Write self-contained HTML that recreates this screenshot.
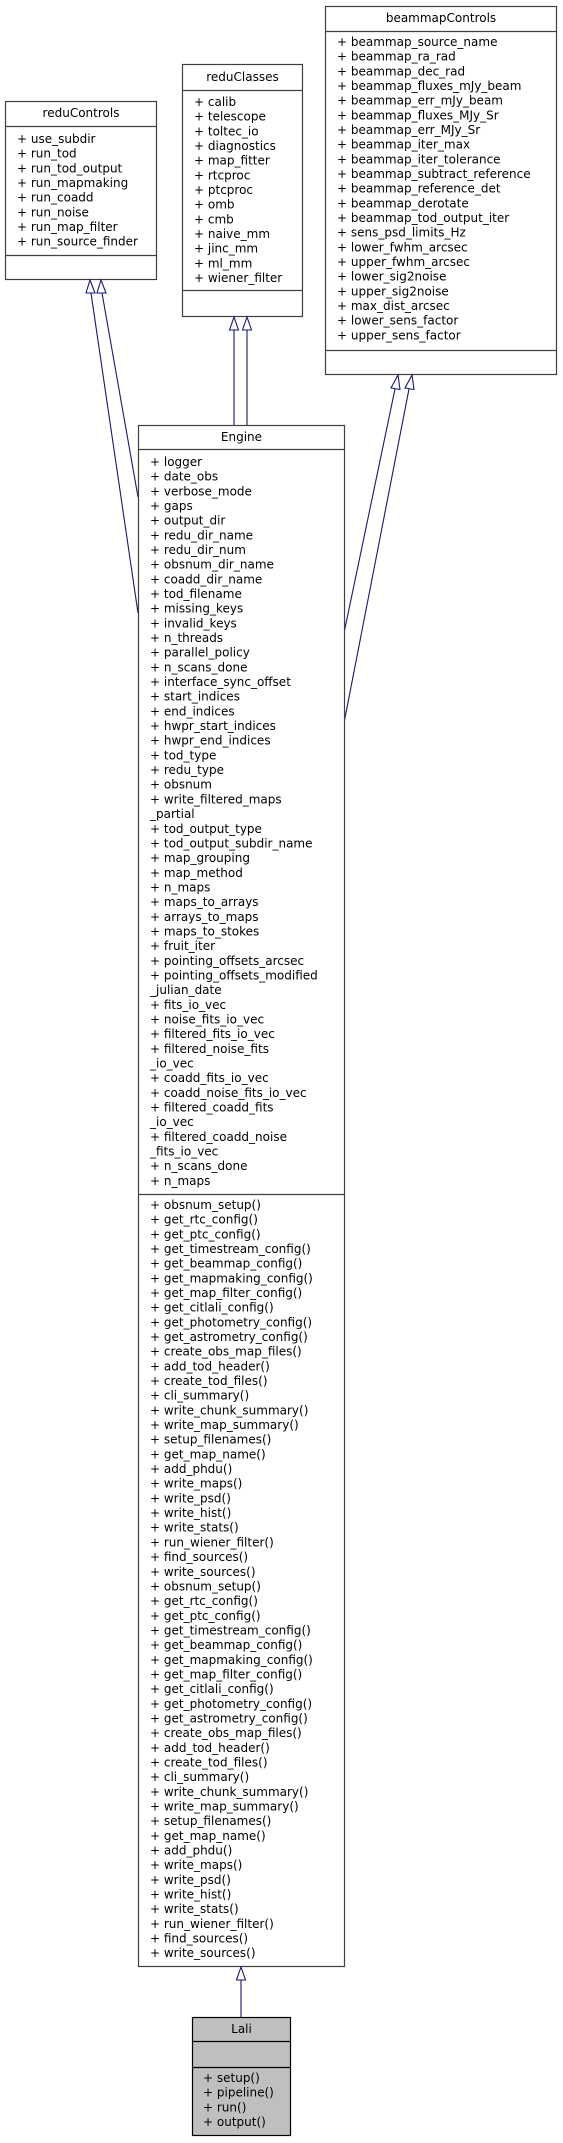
<!DOCTYPE html>
<html><head><meta charset="utf-8">
<style>
html,body{margin:0;padding:0;background:#fff;}
svg{display:block;}
text{font-family:"DejaVu Sans","Liberation Sans",sans-serif;font-size:12px;fill:#000;}
.b{fill:#fff;stroke:#404040;stroke-width:1.2;}
.l{stroke:#404040;stroke-width:1.2;}
.e{stroke:#191970;stroke-width:1.1;fill:none;}
.a{stroke:#191970;stroke-width:1.1;fill:#fff;}
</style></head><body>
<svg width="563" height="2143" viewBox="0 0 563 2143" xmlns="http://www.w3.org/2000/svg">
<!-- reduControls -->
<rect class="b" x="5.5" y="101.5" width="151" height="178"/>
<line class="l" x1="5.5" y1="126.5" x2="156.5" y2="126.5"/>
<line class="l" x1="5.5" y1="255.5" x2="156.5" y2="255.5"/>
<text x="81" y="117" text-anchor="middle">reduControls</text>
<text x="17" y="143"><tspan x="17">+ use_subdir</tspan><tspan x="17" dy="14.67">+ run_tod</tspan><tspan x="17" dy="14.67">+ run_tod_output</tspan><tspan x="17" dy="14.67">+ run_mapmaking</tspan><tspan x="17" dy="14.67">+ run_coadd</tspan><tspan x="17" dy="14.67">+ run_noise</tspan><tspan x="17" dy="14.67">+ run_map_filter</tspan><tspan x="17" dy="14.67">+ run_source_finder</tspan></text>

<!-- reduClasses -->
<rect class="b" x="182.5" y="64.5" width="120" height="252"/>
<line class="l" x1="182.5" y1="90.5" x2="302.5" y2="90.5"/>
<line class="l" x1="182.5" y1="290.5" x2="302.5" y2="290.5"/>
<text x="242.5" y="81" text-anchor="middle">reduClasses</text>
<text x="194" y="106"><tspan x="194">+ calib</tspan><tspan x="194" dy="14.67">+ telescope</tspan><tspan x="194" dy="14.67">+ toltec_io</tspan><tspan x="194" dy="14.67">+ diagnostics</tspan><tspan x="194" dy="14.67">+ map_fitter</tspan><tspan x="194" dy="14.67">+ rtcproc</tspan><tspan x="194" dy="14.67">+ ptcproc</tspan><tspan x="194" dy="14.67">+ omb</tspan><tspan x="194" dy="14.67">+ cmb</tspan><tspan x="194" dy="14.67">+ naive_mm</tspan><tspan x="194" dy="14.67">+ jinc_mm</tspan><tspan x="194" dy="14.67">+ ml_mm</tspan><tspan x="194" dy="14.67">+ wiener_filter</tspan></text>

<!-- beammapControls -->
<rect class="b" x="325.5" y="6.5" width="231" height="368"/>
<line class="l" x1="325.5" y1="31.5" x2="556.5" y2="31.5"/>
<line class="l" x1="325.5" y1="350.5" x2="556.5" y2="350.5"/>
<text x="441" y="22" text-anchor="middle">beammapControls</text>
<text x="337" y="46"><tspan x="337">+ beammap_source_name</tspan><tspan x="337" dy="14.67">+ beammap_ra_rad</tspan><tspan x="337" dy="14.67">+ beammap_dec_rad</tspan><tspan x="337" dy="14.67">+ beammap_fluxes_mJy_beam</tspan><tspan x="337" dy="14.67">+ beammap_err_mJy_beam</tspan><tspan x="337" dy="14.67">+ beammap_fluxes_MJy_Sr</tspan><tspan x="337" dy="14.67">+ beammap_err_MJy_Sr</tspan><tspan x="337" dy="14.67">+ beammap_iter_max</tspan><tspan x="337" dy="14.67">+ beammap_iter_tolerance</tspan><tspan x="337" dy="14.67">+ beammap_subtract_reference</tspan><tspan x="337" dy="14.67">+ beammap_reference_det</tspan><tspan x="337" dy="14.67">+ beammap_derotate</tspan><tspan x="337" dy="14.67">+ beammap_tod_output_iter</tspan><tspan x="337" dy="14.67">+ sens_psd_limits_Hz</tspan><tspan x="337" dy="14.67">+ lower_fwhm_arcsec</tspan><tspan x="337" dy="14.67">+ upper_fwhm_arcsec</tspan><tspan x="337" dy="14.67">+ lower_sig2noise</tspan><tspan x="337" dy="14.67">+ upper_sig2noise</tspan><tspan x="337" dy="14.67">+ max_dist_arcsec</tspan><tspan x="337" dy="14.67">+ lower_sens_factor</tspan><tspan x="337" dy="14.67">+ upper_sens_factor</tspan></text>

<!-- edges reduControls -> Engine -->
<line class="e" x1="91" y1="293" x2="138" y2="613"/>
<line class="e" x1="102" y1="293" x2="138" y2="497"/>
<polygon class="a" points="90,280 86,293 95,293"/>
<polygon class="a" points="101,280 97,293 106,293"/>
<!-- edges reduClasses -> Engine -->
<line class="e" x1="234" y1="330" x2="234" y2="425"/>
<line class="e" x1="247" y1="330" x2="247" y2="425"/>
<polygon class="a" points="234,317 229.5,330 238.5,330"/>
<polygon class="a" points="247,317 242.5,330 251.5,330"/>
<!-- edges beammapControls -> Engine -->
<line class="e" x1="395" y1="389" x2="344" y2="633"/>
<line class="e" x1="409" y1="389" x2="344" y2="723"/>
<polygon class="a" points="398,375 391,388 400,389.5"/>
<polygon class="a" points="412,375 405,388 414,389.5"/>

<!-- Engine -->
<rect class="b" x="138.5" y="425.5" width="206" height="1541"/>
<line class="l" x1="138.5" y1="449.5" x2="344.5" y2="449.5"/>
<line class="l" x1="138.5" y1="1194.5" x2="344.5" y2="1194.5"/>
<text x="241.5" y="441" text-anchor="middle">Engine</text>
<text x="150" y="466"><tspan x="150">+ logger</tspan><tspan x="150" dy="14.67">+ date_obs</tspan><tspan x="150" dy="14.67">+ verbose_mode</tspan><tspan x="150" dy="14.67">+ gaps</tspan><tspan x="150" dy="14.67">+ output_dir</tspan><tspan x="150" dy="14.67">+ redu_dir_name</tspan><tspan x="150" dy="14.67">+ redu_dir_num</tspan><tspan x="150" dy="14.67">+ obsnum_dir_name</tspan><tspan x="150" dy="14.67">+ coadd_dir_name</tspan><tspan x="150" dy="14.67">+ tod_filename</tspan><tspan x="150" dy="14.67">+ missing_keys</tspan><tspan x="150" dy="14.67">+ invalid_keys</tspan><tspan x="150" dy="14.67">+ n_threads</tspan><tspan x="150" dy="14.67">+ parallel_policy</tspan><tspan x="150" dy="14.67">+ n_scans_done</tspan><tspan x="150" dy="14.67">+ interface_sync_offset</tspan><tspan x="150" dy="14.67">+ start_indices</tspan><tspan x="150" dy="14.67">+ end_indices</tspan><tspan x="150" dy="14.67">+ hwpr_start_indices</tspan><tspan x="150" dy="14.67">+ hwpr_end_indices</tspan><tspan x="150" dy="14.67">+ tod_type</tspan><tspan x="150" dy="14.67">+ redu_type</tspan><tspan x="150" dy="14.67">+ obsnum</tspan><tspan x="150" dy="14.67">+ write_filtered_maps</tspan><tspan x="150" dy="14.67">_partial</tspan><tspan x="150" dy="14.67">+ tod_output_type</tspan><tspan x="150" dy="14.67">+ tod_output_subdir_name</tspan><tspan x="150" dy="14.67">+ map_grouping</tspan><tspan x="150" dy="14.67">+ map_method</tspan><tspan x="150" dy="14.67">+ n_maps</tspan><tspan x="150" dy="14.67">+ maps_to_arrays</tspan><tspan x="150" dy="14.67">+ arrays_to_maps</tspan><tspan x="150" dy="14.67">+ maps_to_stokes</tspan><tspan x="150" dy="14.67">+ fruit_iter</tspan><tspan x="150" dy="14.67">+ pointing_offsets_arcsec</tspan><tspan x="150" dy="14.67">+ pointing_offsets_modified</tspan><tspan x="150" dy="14.67">_julian_date</tspan><tspan x="150" dy="14.67">+ fits_io_vec</tspan><tspan x="150" dy="14.67">+ noise_fits_io_vec</tspan><tspan x="150" dy="14.67">+ filtered_fits_io_vec</tspan><tspan x="150" dy="14.67">+ filtered_noise_fits</tspan><tspan x="150" dy="14.67">_io_vec</tspan><tspan x="150" dy="14.67">+ coadd_fits_io_vec</tspan><tspan x="150" dy="14.67">+ coadd_noise_fits_io_vec</tspan><tspan x="150" dy="14.67">+ filtered_coadd_fits</tspan><tspan x="150" dy="14.67">_io_vec</tspan><tspan x="150" dy="14.67">+ filtered_coadd_noise</tspan><tspan x="150" dy="14.67">_fits_io_vec</tspan><tspan x="150" dy="14.67">+ n_scans_done</tspan><tspan x="150" dy="14.67">+ n_maps</tspan></text>
<text x="150" y="1209"><tspan x="150">+ obsnum_setup()</tspan><tspan x="150" dy="14.67">+ get_rtc_config()</tspan><tspan x="150" dy="14.67">+ get_ptc_config()</tspan><tspan x="150" dy="14.67">+ get_timestream_config()</tspan><tspan x="150" dy="14.67">+ get_beammap_config()</tspan><tspan x="150" dy="14.67">+ get_mapmaking_config()</tspan><tspan x="150" dy="14.67">+ get_map_filter_config()</tspan><tspan x="150" dy="14.67">+ get_citlali_config()</tspan><tspan x="150" dy="14.67">+ get_photometry_config()</tspan><tspan x="150" dy="14.67">+ get_astrometry_config()</tspan><tspan x="150" dy="14.67">+ create_obs_map_files()</tspan><tspan x="150" dy="14.67">+ add_tod_header()</tspan><tspan x="150" dy="14.67">+ create_tod_files()</tspan><tspan x="150" dy="14.67">+ cli_summary()</tspan><tspan x="150" dy="14.67">+ write_chunk_summary()</tspan><tspan x="150" dy="14.67">+ write_map_summary()</tspan><tspan x="150" dy="14.67">+ setup_filenames()</tspan><tspan x="150" dy="14.67">+ get_map_name()</tspan><tspan x="150" dy="14.67">+ add_phdu()</tspan><tspan x="150" dy="14.67">+ write_maps()</tspan><tspan x="150" dy="14.67">+ write_psd()</tspan><tspan x="150" dy="14.67">+ write_hist()</tspan><tspan x="150" dy="14.67">+ write_stats()</tspan><tspan x="150" dy="14.67">+ run_wiener_filter()</tspan><tspan x="150" dy="14.67">+ find_sources()</tspan><tspan x="150" dy="14.67">+ write_sources()</tspan><tspan x="150" dy="14.67">+ obsnum_setup()</tspan><tspan x="150" dy="14.67">+ get_rtc_config()</tspan><tspan x="150" dy="14.67">+ get_ptc_config()</tspan><tspan x="150" dy="14.67">+ get_timestream_config()</tspan><tspan x="150" dy="14.67">+ get_beammap_config()</tspan><tspan x="150" dy="14.67">+ get_mapmaking_config()</tspan><tspan x="150" dy="14.67">+ get_map_filter_config()</tspan><tspan x="150" dy="14.67">+ get_citlali_config()</tspan><tspan x="150" dy="14.67">+ get_photometry_config()</tspan><tspan x="150" dy="14.67">+ get_astrometry_config()</tspan><tspan x="150" dy="14.67">+ create_obs_map_files()</tspan><tspan x="150" dy="14.67">+ add_tod_header()</tspan><tspan x="150" dy="14.67">+ create_tod_files()</tspan><tspan x="150" dy="14.67">+ cli_summary()</tspan><tspan x="150" dy="14.67">+ write_chunk_summary()</tspan><tspan x="150" dy="14.67">+ write_map_summary()</tspan><tspan x="150" dy="14.67">+ setup_filenames()</tspan><tspan x="150" dy="14.67">+ get_map_name()</tspan><tspan x="150" dy="14.67">+ add_phdu()</tspan><tspan x="150" dy="14.67">+ write_maps()</tspan><tspan x="150" dy="14.67">+ write_psd()</tspan><tspan x="150" dy="14.67">+ write_hist()</tspan><tspan x="150" dy="14.67">+ write_stats()</tspan><tspan x="150" dy="14.67">+ run_wiener_filter()</tspan><tspan x="150" dy="14.67">+ find_sources()</tspan><tspan x="150" dy="14.67">+ write_sources()</tspan></text>

<!-- Engine -> Lali -->
<line class="e" x1="241" y1="1980" x2="241" y2="2017"/>
<polygon class="a" points="241,1967 236.5,1980 245.5,1980"/>

<!-- Lali -->
<rect x="192.5" y="2017.5" width="98" height="118" fill="#bfbfbf" stroke="#000" stroke-width="1.2"/>
<line x1="192.5" y1="2041.5" x2="290.5" y2="2041.5" stroke="#000" stroke-width="1.2"/>
<line x1="192.5" y1="2067.5" x2="290.5" y2="2067.5" stroke="#000" stroke-width="1.2"/>
<text x="241.5" y="2033" text-anchor="middle">Lali</text>
<text x="203" y="2082"><tspan x="203">+ setup()</tspan><tspan x="203" dy="14.67">+ pipeline()</tspan><tspan x="203" dy="14.67">+ run()</tspan><tspan x="203" dy="14.67">+ output()</tspan></text>
</svg>
</body></html>
